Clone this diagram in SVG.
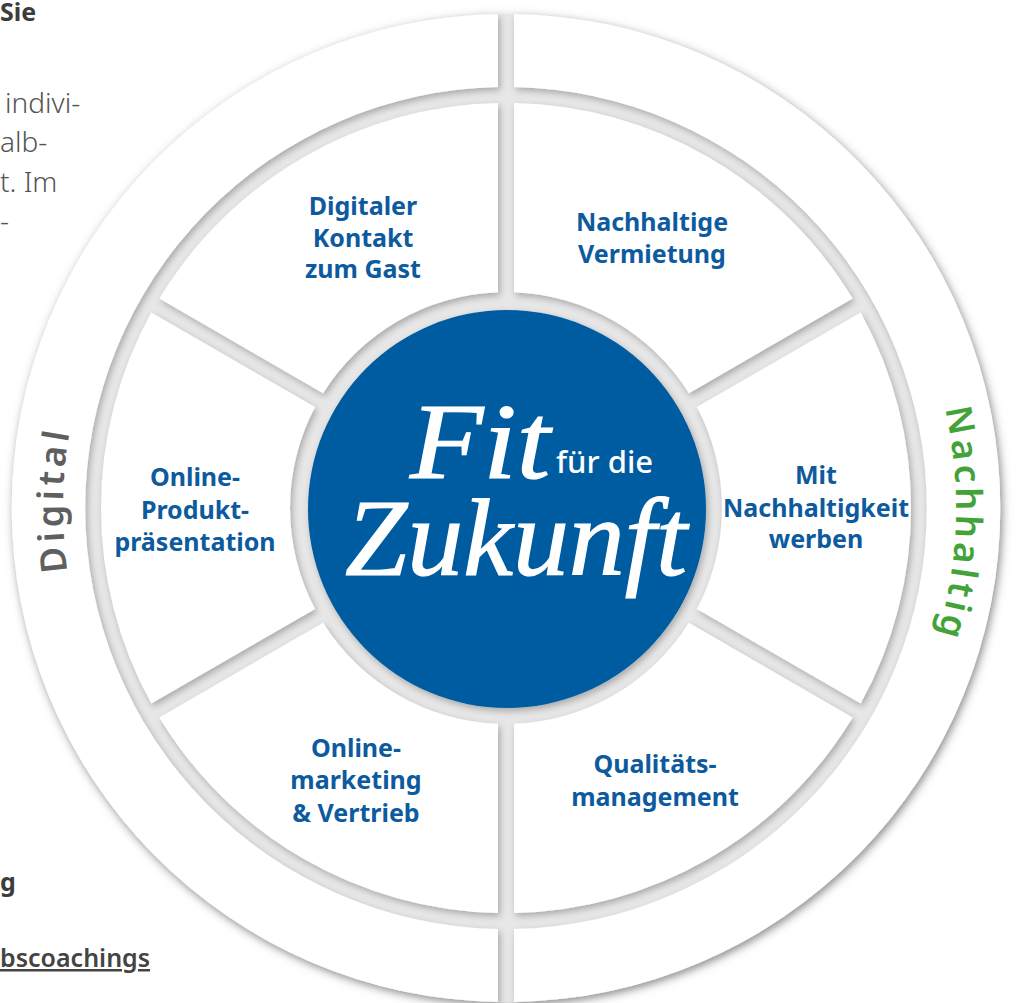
<svg xmlns="http://www.w3.org/2000/svg" width="1018" height="1003" viewBox="0 0 1018 1003">
<defs>
<style>
.page{font-family:"Noto Sans","Liberation Sans",sans-serif;fill:#555;}
.pl{font-size:28px;font-weight:300;}
.pb{font-size:25px;font-weight:700;fill:#3c3c3c;}
.seg{fill:#ffffff;filter:url(#segShadow);}
.lbl{font-family:"Noto Sans","Liberation Sans",sans-serif;font-size:25px;font-weight:700;fill:#0d5b9e;text-anchor:middle;}
.ring{font-family:"Noto Sans","Liberation Sans",sans-serif;font-size:36px;font-weight:600;letter-spacing:4px;text-anchor:middle;}
.script{font-family:"Liberation Serif","DejaVu Serif",serif;font-style:italic;fill:#fff;stroke:#fff;stroke-width:1.2px;}
</style>
<filter id="segShadow" x="-10%" y="-10%" width="120%" height="120%">
<feDropShadow dx="2" dy="3" stdDeviation="3.5" flood-color="#000" flood-opacity="0.28"/>
</filter>
<filter id="baseShadow" x="-10%" y="-10%" width="120%" height="120%">
<feDropShadow dx="2" dy="3" stdDeviation="6" flood-color="#000" flood-opacity="0.22"/>
</filter>
<path id="arcLeft" d="M166.6,792.8 A443,443 0 0 1 166.6,223.2"/>
<path id="arcRight" d="M850.7,218.7 A450,450 0 0 1 850.7,797.3"/>
</defs>

<rect width="1018" height="1003" fill="#ffffff"/>

<g id="page-text" class="page">
<text class="pb" x="0" y="21">Sie</text>
<text class="pl" x="5" y="113">indivi-</text>
<text class="pl" x="0" y="152">alb-</text>
<text class="pl" x="0" y="192">t. Im</text>
<text class="pl" x="0" y="231">-</text>
<text class="pb" x="0" y="891">g</text>
<text class="pb" x="0" y="967" style="font-weight:600;fill:#444;text-decoration:underline;">bscoachings</text>
</g>

<circle id="base" cx="506" cy="508" r="494" fill="#e7e7e7" filter="url(#baseShadow)"/>

<g id="ring-digital">
<path class="seg" d="M498,14.06 A494,494 0 0 0 498,1001.94 L498,928.92 A421,421 0 0 1 498,87.08 Z"/>
<text class="ring" fill="#5f5f5f"><textPath href="#arcLeft" startOffset="317">Digital</textPath></text>
</g>
<g id="ring-nachhaltig">
<path class="seg" d="M514,1001.94 A494,494 0 0 0 514,14.06 L514,87.08 A421,421 0 0 1 514,928.92 Z"/>
<text class="ring" fill="#43a338"><textPath href="#arcRight" startOffset="330">Nachhaltig</textPath></text>
</g>

<g id="seg-digitaler-kontakt">
<path class="seg" d="M498,103.08 A405,405 0 0 0 159.33,298.61 L323.07,393.15 A216,216 0 0 1 498,292.15 Z"/>
<text class="lbl"><tspan x="363" y="215">Digitaler</tspan><tspan x="363" y="247">Kontakt</tspan><tspan x="363" y="278">zum Gast</tspan></text>
</g>
<g id="seg-online-produkt">
<path class="seg" d="M151.33,312.47 A405,405 0 0 0 151.33,703.53 L315.07,609 A216,216 0 0 1 315.07,407 Z"/>
<text class="lbl"><tspan x="195" y="486">Online-</tspan><tspan x="195" y="519">Produkt-</tspan><tspan x="195" y="551">präsentation</tspan></text>
</g>
<g id="seg-onlinemarketing">
<path class="seg" d="M159.33,717.39 A405,405 0 0 0 498,912.92 L498,723.85 A216,216 0 0 1 323.07,622.85 Z"/>
<text class="lbl"><tspan x="356" y="757">Online-</tspan><tspan x="356" y="789">marketing</tspan><tspan x="356" y="822">&amp; Vertrieb</tspan></text>
</g>
<g id="seg-qualitaet">
<path class="seg" d="M514,912.92 A405,405 0 0 0 852.67,717.39 L688.93,622.85 A216,216 0 0 1 514,723.85 Z"/>
<text class="lbl"><tspan x="655" y="773">Qualitäts-</tspan><tspan x="655" y="806">management</tspan></text>
</g>
<g id="seg-nachhaltigkeit-werben">
<path class="seg" d="M860.67,703.53 A405,405 0 0 0 860.67,312.47 L696.93,407 A216,216 0 0 1 696.93,609 Z"/>
<text class="lbl"><tspan x="816" y="484">Mit</tspan><tspan x="816" y="517">Nachhaltigkeit</tspan><tspan x="816" y="548">werben</tspan></text>
</g>
<g id="seg-nachhaltige-vermietung">
<path class="seg" d="M852.67,298.61 A405,405 0 0 0 514,103.08 L514,292.15 A216,216 0 0 1 688.93,393.15 Z"/>
<text class="lbl"><tspan x="652" y="231">Nachhaltige</tspan><tspan x="652" y="263">Vermietung</tspan></text>
</g>

<g id="connectors"></g>

<g id="center">
<circle cx="507" cy="509" r="199" fill="#005ca1" filter="url(#segShadow)"/>
<text class="script" x="410" y="478" font-size="108" textLength="140" lengthAdjust="spacingAndGlyphs">Fit</text>
<text x="556" y="473" font-family="Noto Sans, Liberation Sans, sans-serif" font-size="31" font-weight="500" fill="#ffffff">für die</text>
<text class="script" x="345" y="575" font-size="110" textLength="342" lengthAdjust="spacingAndGlyphs">Zukunft</text>
</g>
</svg>
